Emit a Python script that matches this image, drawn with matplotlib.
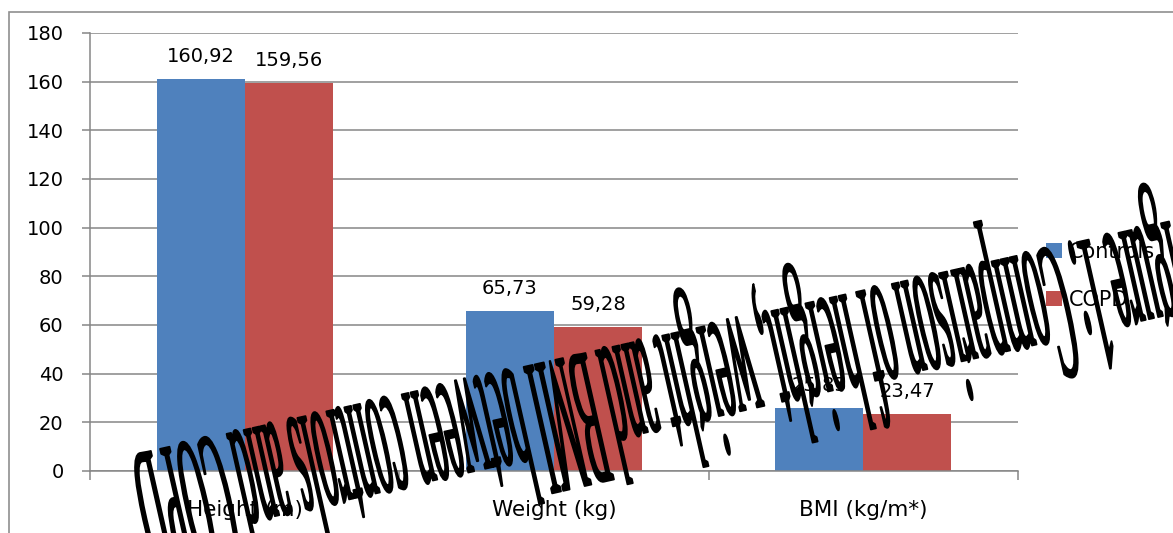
import matplotlib
matplotlib.use("Agg")
import matplotlib.pyplot as plt
import numpy as np
from matplotlib.patheffects import AbstractPathEffect
from matplotlib.transforms import Affine2D
from matplotlib.patches import Rectangle

# ---- data -------------------------------------------------------------
categories = ["Height (m)", "Weight (kg)", "BMI (kg/m*)"]
series_names = ["Controls", "COPD"]
controls = [160.92, 65.73, 25.85]
copd = [159.56, 59.28, 23.47]
y_ticks = [0, 20, 40, 60, 80, 100, 120, 140, 160, 180]
caption = "Figure 1: Comparison of height, weight and BMI between controls and COPD"

# ---- style ------------------------------------------------------------
BLUE = "#4F81BD"
RED = "#C0504D"
GRID = "#868686"
plt.rcParams["font.family"] = ["DejaVu Sans"]

W, H = 1173, 533
fig = plt.figure(figsize=(W / 100, H / 100), dpi=100)


def fx(px):
    return px / W


def fy(py):
    return 1 - py / H


# chart frame around the whole graphic
fig.patches.append(Rectangle((fx(9), fy(620)), (1400 - 9) / W, (620 - 12) / H,
                             transform=fig.transFigure, fill=False,
                             ec="#8f8f8f", lw=1.2, zorder=0))

ax = fig.add_axes([fx(90), fy(471), fx(1018) - fx(90), fy(33) - fy(471)])
x = np.arange(len(categories))
bw = 0.285
b1 = ax.bar(x - bw / 2, controls, bw, color=BLUE, label=series_names[0], zorder=2)
b2 = ax.bar(x + bw / 2, copd, bw, color=RED, label=series_names[1], zorder=2)

ax.set_xlim(-0.5, len(categories) - 0.5)
ax.set_ylim(y_ticks[0], y_ticks[-1])
ax.set_yticks(y_ticks)
ax.yaxis.grid(True, color=GRID, lw=1.1)
ax.set_axisbelow(True)
for s in ("top", "right"):
    ax.spines[s].set_visible(False)
for s in ("left", "bottom"):
    ax.spines[s].set_color(GRID)
    ax.spines[s].set_linewidth(1.1)

ax.tick_params(axis="y", length=6, width=1.1, color=GRID, pad=13, labelsize=14)
ax.set_xticks(x)
ax.set_xticklabels(categories, fontsize=15.5)
ax.tick_params(axis="x", which="major", length=0, pad=21)
ax.set_xticks(np.arange(len(categories) + 1) - 0.5, minor=True)
ax.tick_params(axis="x", which="minor", length=6.5, width=1.1, color=GRID)

# value labels above each bar
for bars, vals in ((b1, controls), (b2, copd)):
    for rect, v in zip(bars, vals):
        ax.annotate(f"{v:.2f}".replace(".", ","),
                    (rect.get_x() + rect.get_width() / 2, v),
                    xytext=(0, 17), textcoords="offset pixels",
                    ha="center", va="baseline", fontsize=14)

ax.legend(loc="upper left", bbox_to_anchor=(fx(1046), fy(242)),
          bbox_transform=fig.transFigure, frameon=False, fontsize=15,
          handlelength=0.75, handleheight=0.75, handletextpad=0.35,
          labelspacing=1.35, borderpad=0, borderaxespad=0)


# tall, condensed caption lettering (stretched vertically, slightly emboldened)
class TallGlyphs(AbstractPathEffect):
    def __init__(self, stretch, weight):
        super().__init__()
        self.stretch = stretch
        self.weight = weight

    def draw_path(self, renderer, gc, tpath, affine, rgbFace=None):
        gc0 = renderer.new_gc()
        gc0.copy_properties(gc)
        gc0.set_linewidth(self.weight)
        gc0.set_foreground(rgbFace if rgbFace is not None else gc.get_rgb())
        gc0.set_joinstyle("round")
        renderer.draw_path(gc0, tpath, Affine2D().scale(1.0, self.stretch) + affine, rgbFace)
        gc0.restore()


fig.text(fx(124), fy(457), caption, rotation=192.7, rotation_mode="anchor",
         ha="right", va="baseline", family="Liberation Serif", fontsize=25,
         color="black", path_effects=[TallGlyphs(5.7, 1.3)], zorder=10)

fig.savefig("out.png", dpi=100)
